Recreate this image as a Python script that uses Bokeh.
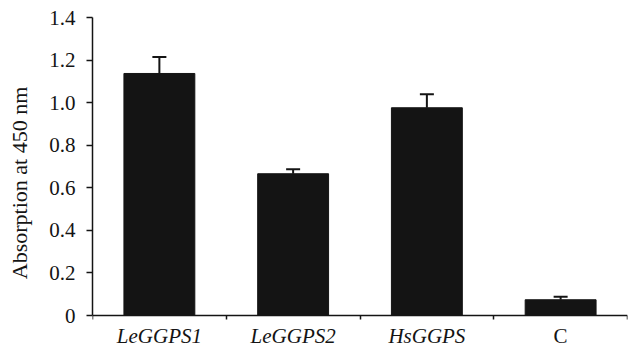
from bokeh.plotting import figure
from bokeh.models import (Range1d, FixedTicker, NumeralTickFormatter, Whisker,
                          TeeHead, ColumnDataSource)
from bokeh.core.properties import value
from bokeh.embed import file_html
from bokeh.resources import INLINE

# ---- data ----
categories = ["LeGGPS1", "LeGGPS2", "HsGGPS", "C"]
label_styles = ["italic", "italic", "italic", "normal"]
values = [1.137, 0.666, 0.976, 0.074]
errors = [0.078, 0.021, 0.063, 0.014]
y_ticks = [0, 0.2, 0.4, 0.6, 0.8, 1.0, 1.2, 1.4]
y_label = "Absorption at 450 nm"

# ---- layout / style constants ----
FONT = "Liberation Serif"
INK = "#141414"
Y_BOTTOM = -0.155      # frame extends below 0 to hold the category labels
LABEL_Y = -0.042       # category label top, just under the baseline

n = len(categories)
xs = [i + 0.5 for i in range(n)]
src = ColumnDataSource(dict(
    x=xs, top=values,
    upper=[v + e for v, e in zip(values, errors)],
))
lab_src = ColumnDataSource(dict(
    x=xs, y=[LABEL_Y] * n, text=categories, style=label_styles,
))

p = figure(width=628, height=348, output_backend="svg", toolbar_location=None,
           x_range=Range1d(0, n), y_range=Range1d(Y_BOTTOM, 1.4),
           min_border_left=92, min_border_right=1, min_border_top=17,
           min_border_bottom=0)
p.outline_line_color = None
p.xgrid.visible = False
p.ygrid.visible = False
p.background_fill_color = "white"
p.border_fill_color = "white"

p.vbar(x="x", top="top", bottom=0, width=0.53, source=src,
       fill_color=INK, line_color=INK)

w = Whisker(base="x", lower="top", upper="upper", source=src,
            dimension="height", line_color=INK, line_width=2,
            upper_head=TeeHead(size=14, line_color=INK, line_width=2),
            lower_head=None)
p.add_layout(w)

p.text(x="x", y="y", text="text", source=lab_src,
       text_font=value(FONT), text_font_size=value("21px"),
       text_font_style="style", text_color=INK,
       text_align="center", text_baseline="top")

# y axis
ya = p.yaxis[0]
ya.bounds = (0, 1.4)
ya.ticker = FixedTicker(ticks=y_ticks, minor_ticks=[])
ya.formatter = NumeralTickFormatter(format="0.0")
ya.major_label_overrides = {0: "0"}
ya.axis_label = y_label
ya.axis_label_text_font = FONT
ya.axis_label_text_font_size = "22px"
ya.axis_label_text_font_style = "normal"
ya.axis_label_text_color = INK
ya.axis_label_standoff = 14
ya.major_label_text_font = FONT
ya.major_label_text_font_size = "21px"
ya.major_label_text_color = INK
ya.major_label_standoff = 11
ya.major_tick_out = 6
ya.major_tick_in = 0
ya.axis_line_width = 1.5
ya.major_tick_line_width = 1.5
ya.axis_line_color = INK
ya.major_tick_line_color = INK

# x axis drawn at y = 0, ticks at category boundaries
xa = p.xaxis[0]
xa.fixed_location = 0
xa.ticker = FixedTicker(ticks=[], minor_ticks=list(range(n + 1)))
xa.major_label_text_font_size = "0px"
xa.major_tick_out = 0
xa.major_tick_in = 0
xa.minor_tick_out = 4
xa.minor_tick_in = 0
xa.minor_tick_line_width = 1.5
xa.minor_tick_line_color = INK
xa.axis_line_width = 1.5
xa.axis_line_color = INK

open("out.html", "w").write(file_html(p, INLINE))
